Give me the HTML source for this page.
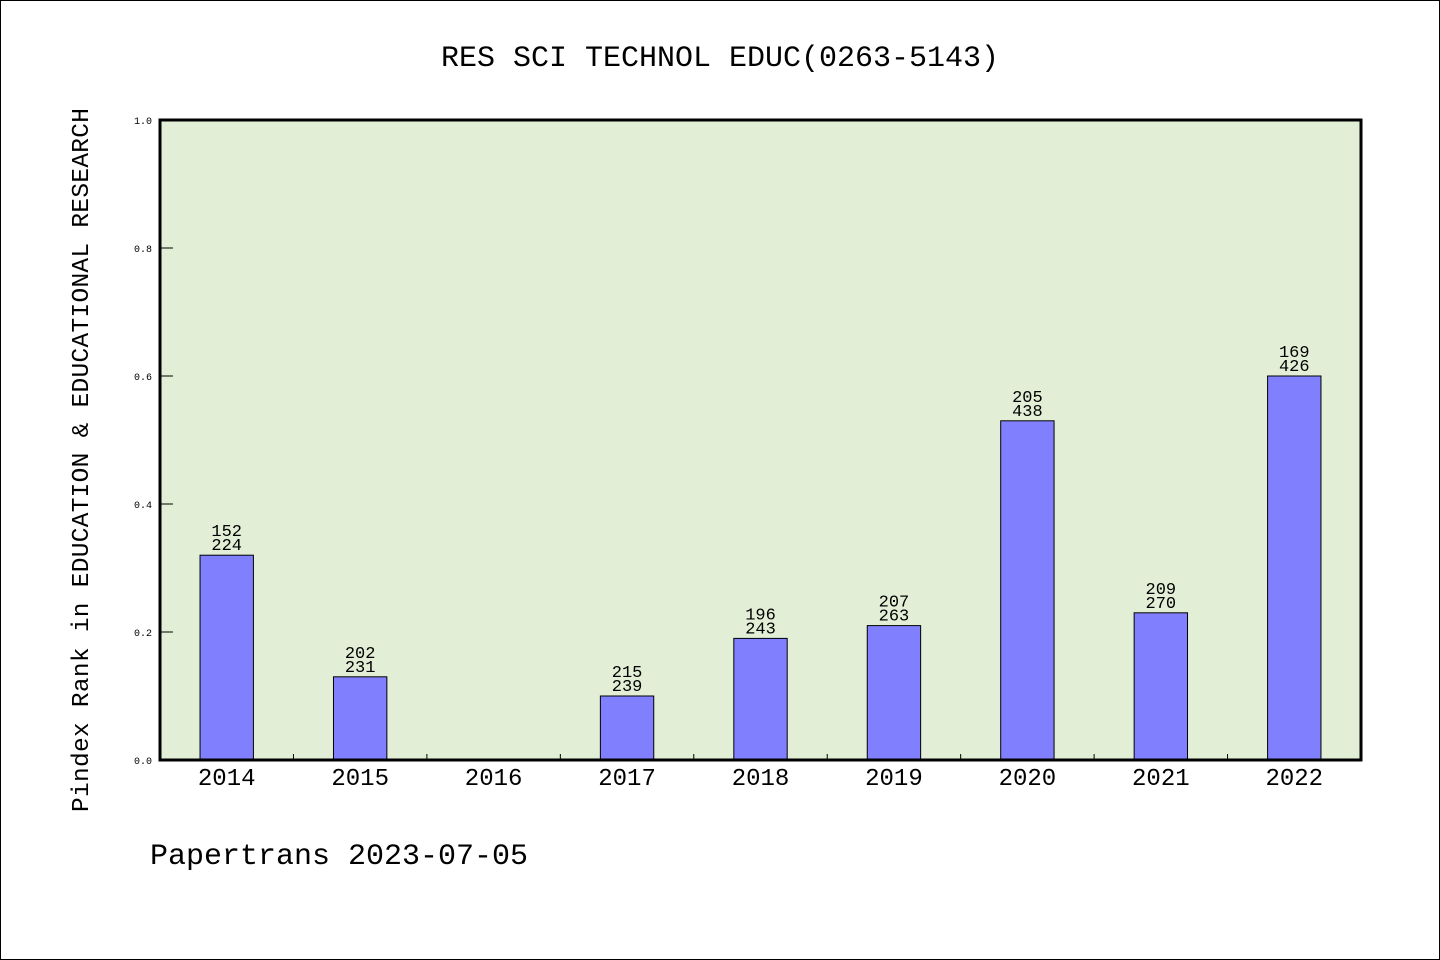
<!DOCTYPE html>
<html><head><meta charset="utf-8"><style>
html,body{margin:0;padding:0;background:#fff}
svg{display:block}
text{font-family:"Liberation Mono","DejaVu Sans Mono",monospace;fill:#000}
</style></head><body>
<svg width="1440" height="960" id="svg">
<rect x="0.5" y="0.5" width="1439" height="959" fill="#fff" stroke="#000"/>
<text x="720" y="66" font-size="30" text-anchor="middle">RES SCI TECHNOL EDUC(0263-5143)</text>
<text transform="translate(88,460) rotate(-90)" font-size="24.5" text-anchor="middle" textLength="704">Pindex Rank in EDUCATION &amp; EDUCATIONAL RESEARCH</text>
<text x="150" y="864" font-size="30">Papertrans 2023-07-05</text>
<rect x="160" y="120" width="1201" height="640" fill="#e2efd6"/>
<g id="bars"></g>
<g id="axes"></g>
</svg>
<script>
const categories=["2014","2015","2016","2017","2018","2019","2020","2021","2022"];
const values=[0.32,0.13,0,0.10,0.19,0.21,0.53,0.23,0.60];
const ranks=["152","202","","215","196","207","205","209","169"];
const totals=["224","231","","239","243","263","438","270","426"];
const yTicks=[0,0.2,0.4,0.6,0.8,1.0];
const ns="http://www.w3.org/2000/svg";
const X0=160,X1=1361,Y0=760,Y1=120;
const band=(X1-X0)/categories.length;
const xc=i=>X0+band*(i+0.5);
const y=v=>Y0-(Y0-Y1)*v;
function mk(t,a,p){const e=document.createElementNS(ns,t);for(const k in a)e.setAttribute(k,a[k]);p.appendChild(e);return e;}
const gb=document.getElementById('bars'),ga=document.getElementById('axes');
categories.forEach((c,i)=>{
 const bw=band*0.4;
 if(values[i]>0){
  const r=mk('rect',{x:xc(i)-bw/2,y:y(values[i]),width:bw,height:Y0-y(values[i]),fill:'#8080ff',stroke:'#000','stroke-width':1},gb);
  
  
  const t1=mk('text',{x:xc(i),y:y(values[i])-19,'font-size':17,'text-anchor':'middle'},gb);t1.textContent=ranks[i];
  
  
  const t2=mk('text',{x:xc(i),y:y(values[i])-5,'font-size':17,'text-anchor':'middle'},gb);t2.textContent=totals[i];
  
  
 }
 const xl=mk('text',{x:xc(i),y:785,'font-size':24,'text-anchor':'middle'},ga);xl.textContent=c;
 
 
 if(i>0){const tk=mk('line',{x1:X0+band*i,x2:X0+band*i,y1:Y0,y2:Y0-6,stroke:'#000','stroke-width':1},ga);
 
 }
});
yTicks.forEach(v=>{
 const tk=mk('line',{x1:X0,x2:X0+13,y1:y(v),y2:y(v),stroke:'#000','stroke-width':1},ga);
 
 
 const tl=mk('text',{x:152,y:y(v)+4,'font-size':10,'text-anchor':'end'},ga);tl.textContent=v.toFixed(1);
 
 
});
const bd=mk('rect',{x:X0,y:Y1,width:X1-X0,height:Y0-Y1,fill:'none',stroke:'#000','stroke-width':3},ga);


</script>
</body></html>
